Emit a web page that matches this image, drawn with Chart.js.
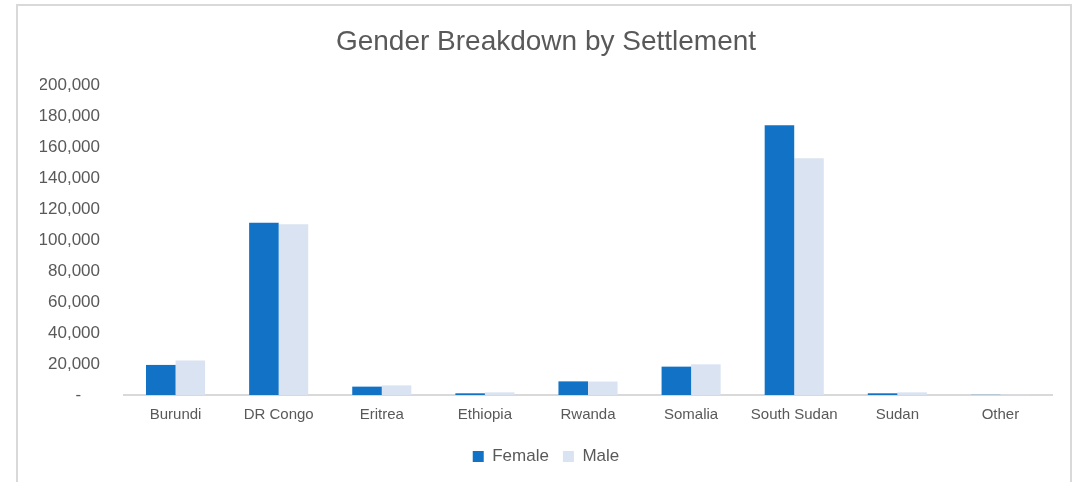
<!DOCTYPE html>
<html>
<head>
<meta charset="utf-8">
<script src="https://cdn.jsdelivr.net/npm/chart.js@4.4.1/dist/chart.umd.min.js"></script>
<style>
  html, body { margin: 0; padding: 0; background: #ffffff; overflow: hidden; }
  #wrap { position: relative; width: 1092px; height: 482px; }
  #frame { position: absolute; left: 16px; top: 4px; width: 1056px; height: 520px;
           border: 2px solid #d9d9d9; box-sizing: border-box; pointer-events: none; }
  canvas { position: absolute; left: 0; top: 0; }
</style>
</head>
<body>
<div id="wrap">
  <canvas id="c" width="1092" height="482"></canvas>
  <div id="frame"></div>
</div>
<script>
const categories = ["Burundi", "DR Congo", "Eritrea", "Ethiopia", "Rwanda", "Somalia", "South Sudan", "Sudan", "Other"];
const femaleValues = [19400, 111200, 5400, 1100, 8800, 18300, 174000, 1100, 100];
const maleValues = [22200, 110100, 6200, 1700, 8700, 19800, 152700, 1700, 150];
const yTickMin = 0;
const yTickMax = 200000;
const yTickStep = 20000;

const FONT = "'Liberation Sans', Arial, sans-serif";
const TEXT = "#595959";

new Chart(document.getElementById("c"), {
  type: "bar",
  data: {
    labels: categories,
    datasets: [
      { label: "Female", data: femaleValues, backgroundColor: "#1273C6", borderWidth: 0 },
      { label: "Male", data: maleValues, backgroundColor: "#DAE3F1", borderWidth: 0 }
    ]
  },
  options: {
    responsive: false,
    animation: false,
    devicePixelRatio: 1,
    layout: { padding: { left: 40, right: 40, top: 0, bottom: 7 } },
    datasets: { bar: { barPercentage: 1.0, categoryPercentage: 0.573 } },
    plugins: {
      title: {
        display: true,
        text: "Gender Breakdown by Settlement",
        color: TEXT,
        font: { family: FONT, size: 28, weight: "normal" },
        padding: { top: 25, bottom: 26.4 }
      },
      legend: {
        display: true,
        position: "bottom",
        labels: {
          color: TEXT,
          font: { family: FONT, size: 17 },
          boxWidth: 11,
          boxHeight: 11,
          padding: 14
        }
      },
      tooltip: { enabled: false }
    },
    scales: {
      x: {
        grid: { display: false, drawTicks: false },
        border: { display: true, color: "#d9d9d9", width: 2 },
        ticks: { color: TEXT, font: { family: FONT, size: 15 }, padding: 11, maxRotation: 0, autoSkip: false },
        afterFit: (s) => { s.height = 39; }
      },
      y: {
        min: yTickMin,
        max: yTickMax,
        grid: { display: false, drawTicks: false },
        border: { display: false },
        ticks: {
          stepSize: yTickStep,
          color: TEXT,
          font: { family: FONT, size: 17 },
          padding: 24,
          callback: (v) => v === 0 ? "-    " : Number(v).toLocaleString("en-US")
        },
        afterFit: (s) => { s.width = 84; }
      }
    }
  }
});
</script>
</body>
</html>
